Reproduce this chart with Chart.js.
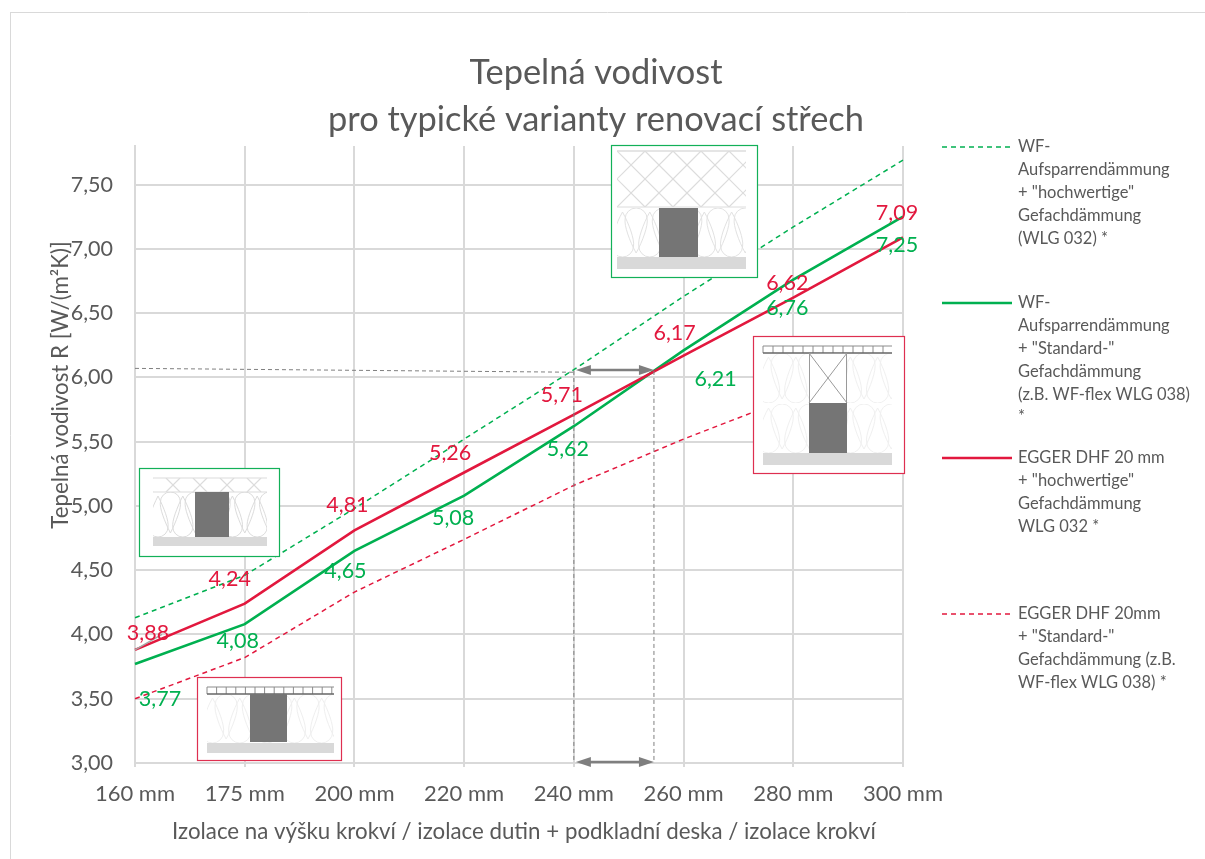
<!DOCTYPE html>
<html lang="cs">
<head>
  <meta charset="UTF-8">
  <title>Tepelná vodivost</title>
  <script src="https://cdn.jsdelivr.net/npm/chart.js"></script>
  <style>
    html, body { margin: 0; padding: 0; background: #fff; overflow: hidden; }
    canvas { display: block; }
  </style>
</head>
<body>
  <canvas id="chart" width="1205" height="859"></canvas>

  <script>
    const categories = ['160 mm', '175 mm', '200 mm', '220 mm', '240 mm', '260 mm', '280 mm', '300 mm'];

    // hodnoty
    const wfPremium = [4.13, 4.46, 4.98, 5.52, 6.06, 6.63, 7.17, 7.69];
    const wfStandard = [3.77, 4.08, 4.65, 5.08, 5.62, 6.21, 6.76, 7.25];
    const eggerPremium = [3.88, 4.24, 4.81, 5.26, 5.71, 6.17, 6.62, 7.09];
    const eggerStandard = [3.50, 3.82, 4.33, 4.74, 5.16, 5.52, 5.85, 6.25];

    const legendWfPremium = ['WF-', 'Aufsparrendämmung', '+ "hochwertige"', 'Gefachdämmung', '(WLG 032) *'];
    const legendWfStandard = ['WF-', 'Aufsparrendämmung', '+ "Standard-"', 'Gefachdämmung', '(z.B. WF-flex WLG 038)', '*'];
    const legendEggerPremium = ['EGGER DHF 20 mm', '+ "hochwertige"', 'Gefachdämmung', 'WLG 032 *'];
    const legendEggerStandard = ['EGGER DHF 20mm', '+ "Standard-"', 'Gefachdämmung (z.B.', 'WF-flex WLG 038) *'];

    const titleLines = ['Tepelná vodivost', 'pro typické varianty renovací střech'];
    const yTitle = 'Tepelná vodivost R [W/(m²K)]';
    const xTitle = 'Izolace na výšku krokví / izolace dutin + podkladní deska / izolace krokví';

    const GREEN = '#00B050';
    const RED = '#E2183E';
    const TEXT = '#595959';
    const FONT = 'Lato, "Open Sans", sans-serif';

    // posuny popisků od bodu
    const redOffsets = [[13, -17], [-15, -25], [-7, -25], [-14, -19], [-12, -20], [-9, -22], [-6, -15], [-6, -24]];
    const greenOffsets = [[25, 35], [-7, 17], [-9, 20], [-11, 22], [-6, 23], [32, 29], [-6, 28], [-6, 28]];

    function comma(v) {
      return v.toFixed(2).replace('.', ',');
    }

    function line(ctx, x1, y1, x2, y2) {
      ctx.beginPath();
      ctx.moveTo(x1, y1);
      ctx.lineTo(x2, y2);
      ctx.stroke();
    }

    function arrowHead(ctx, x, y, dir) {
      ctx.beginPath();
      ctx.moveTo(x, y);
      ctx.lineTo(x + dir * 15, y - 5);
      ctx.lineTo(x + dir * 15, y + 5);
      ctx.closePath();
      ctx.fill();
    }

    function doubleArrow(ctx, x1, x2, y) {
      ctx.strokeStyle = '#7f7f7f';
      ctx.fillStyle = '#7f7f7f';
      ctx.lineWidth = 2.5;
      line(ctx, x1 + 8, y, x2 - 8, y);
      arrowHead(ctx, x1, y, 1);
      arrowHead(ctx, x2, y, -1);
    }

    // vlnitá izolace mezi dvěma výškami
    function insulation(ctx, x0, x1, y0, y1, cellW, color) {
      ctx.save();
      ctx.beginPath();
      ctx.rect(x0, y0, x1 - x0, y1 - y0);
      ctx.clip();
      ctx.strokeStyle = color;
      ctx.lineWidth = 1;
      const r = cellW / 2;
      let down = true;
      for (let cx = x0 + r / 2; cx < x1 + r; cx += cellW * 0.62) {
        ctx.beginPath();
        if (down) {
          ctx.moveTo(cx, y0 + 4);
          ctx.bezierCurveTo(cx - r * 0.6, y0 + 16, cx - r * 1.1, y1 - r * 1.6, cx - r, y1 - r);
          ctx.arc(cx, y1 - r, r, Math.PI, 0, true);
          ctx.bezierCurveTo(cx + r * 1.1, y1 - r * 1.6, cx + r * 0.6, y0 + 16, cx, y0 + 4);
        } else {
          ctx.moveTo(cx, y1 - 4);
          ctx.bezierCurveTo(cx - r * 0.6, y1 - 16, cx - r * 1.1, y0 + r * 1.6, cx - r, y0 + r);
          ctx.arc(cx, y0 + r, r, Math.PI, 0, false);
          ctx.bezierCurveTo(cx + r * 1.1, y0 + r * 1.6, cx + r * 0.6, y1 - 16, cx, y1 - 4);
        }
        ctx.stroke();
        down = !down;
      }
      ctx.restore();
    }

    function crossHatch(ctx, x0, x1, y0, y1, step) {
      ctx.save();
      ctx.beginPath();
      ctx.rect(x0, y0, x1 - x0, y1 - y0);
      ctx.clip();
      ctx.strokeStyle = '#dcdcdc';
      ctx.lineWidth = 1.2;
      const h = y1 - y0;
      for (let x = x0 - h; x < x1 + h; x += step) {
        line(ctx, x, y0, x + h, y1);
        line(ctx, x + h, y0, x, y1);
      }
      ctx.restore();
    }

    function battens(ctx, x0, x1, y0, y1, step) {
      ctx.strokeStyle = '#8c8c8c';
      ctx.lineWidth = 1;
      line(ctx, x0, y0, x1, y0);
      for (let x = x0; x <= x1; x += step) line(ctx, x, y0, x, y1);
      ctx.strokeStyle = '#666';
      ctx.lineWidth = 1.5;
      line(ctx, x0, y1, x1, y1);
    }

    function frame(ctx, x, y, w, h, color) {
      ctx.fillStyle = '#fff';
      ctx.fillRect(x, y, w, h);
      ctx.strokeStyle = color;
      ctx.lineWidth = 1.2;
      ctx.strokeRect(x + 0.5, y + 0.5, w, h);
    }

    function solid(ctx, x, y, w, h, color) {
      ctx.fillStyle = color;
      ctx.fillRect(x, y, w, h);
    }

    function drawInsets(ctx) {
      // levá zelená
      frame(ctx, 139, 468, 140, 88, '#12B058');
      ctx.strokeStyle = '#dcdcdc';
      ctx.lineWidth = 1.2;
      line(ctx, 153, 478, 267, 478);
      line(ctx, 153, 492, 267, 492);
      crossHatch(ctx, 153, 267, 478, 492, 27);
      insulation(ctx, 153, 267, 492, 537, 20, '#dcdcdc');
      solid(ctx, 195, 492, 34, 45, '#757575');
      solid(ctx, 153, 537, 114, 9, '#d9d9d9');

      // spodní červená
      frame(ctx, 197, 677, 144, 83, '#DE2F50');
      insulation(ctx, 207, 334, 694, 743, 22, '#efefef');
      battens(ctx, 207, 334, 687, 694, 9.6);
      solid(ctx, 250, 694, 37, 48, '#757575');
      solid(ctx, 207, 743, 127, 10, '#d9d9d9');

      // horní zelená
      frame(ctx, 611, 145, 146, 132, '#12B058');
      crossHatch(ctx, 617, 746, 151, 207, 28);
      ctx.strokeStyle = '#dcdcdc';
      ctx.lineWidth = 1.5;
      line(ctx, 617, 151, 746, 151);
      ctx.lineWidth = 1;
      line(ctx, 617, 207, 746, 207);
      insulation(ctx, 617, 746, 208, 257, 22, '#e2e2e2');
      solid(ctx, 659, 208, 39, 49, '#757575');
      solid(ctx, 617, 257, 129, 12, '#d9d9d9');

      // pravá červená
      frame(ctx, 753, 336, 151, 137, '#DE2F50');
      insulation(ctx, 763, 892, 353, 403, 22, '#f0f0f0');
      insulation(ctx, 763, 892, 404, 453, 22, '#f0f0f0');
      battens(ctx, 763, 892, 346, 353, 10);
      solid(ctx, 809, 353, 38, 50, '#fff');
      ctx.strokeStyle = '#9a9a9a';
      ctx.lineWidth = 1;
      ctx.strokeRect(809.5, 353.5, 37, 50);
      line(ctx, 809, 353, 847, 403);
      line(ctx, 847, 353, 809, 403);
      solid(ctx, 809, 403, 38, 50, '#757575');
      solid(ctx, 763, 453, 129, 12, '#d9d9d9');
    }

    function drawLegendBlock(ctx, lines, yStart, color, dashed) {
      ctx.save();
      ctx.strokeStyle = color;
      ctx.lineWidth = dashed ? 1.5 : 2.5;
      ctx.setLineDash(dashed ? [5, 4] : []);
      line(ctx, 942, yStart, 1012, yStart);
      ctx.restore();
      ctx.fillStyle = TEXT;
      ctx.font = '16.5px ' + FONT;
      ctx.textAlign = 'left';
      ctx.textBaseline = 'middle';
      lines.forEach((t, i) => ctx.fillText(t, 1018, yStart + i * 22.8));
    }

    const overlayPlugin = {
      id: 'overlay',
      beforeDraw(chart) {
        const ctx = chart.ctx;
        ctx.save();
        ctx.strokeStyle = '#d9d9d9';
        ctx.lineWidth = 1;
        line(ctx, 10.5, 12, 10.5, 859);
        line(ctx, 10, 12.5, 1205, 12.5);
        ctx.restore();
      },
      afterDatasetsDraw(chart) {
        const ctx = chart.ctx;
        const xs = chart.scales.x;
        const ys = chart.scales.y;
        ctx.save();

        // vodicí čáry a šipky
        const x240 = xs.getPixelForValue(4);
        const xCross = xs.getPixelForValue(4.73);
        const yCross = ys.getPixelForValue(6.05);
        ctx.save();
        ctx.strokeStyle = '#7f7f7f';
        ctx.lineWidth = 1;
        ctx.setLineDash([4, 3]);
        line(ctx, xs.left, ys.getPixelForValue(6.07), x240, ys.getPixelForValue(6.04));
        line(ctx, x240, yCross, x240, ys.bottom);
        line(ctx, xCross, yCross, xCross, ys.bottom);
        ctx.restore();
        doubleArrow(ctx, x240 + 2, xCross, yCross - 1);
        doubleArrow(ctx, x240 + 2, xCross, ys.bottom - 1);

        ctx.strokeStyle = '#a6a6a6';
        ctx.lineWidth = 1.5;
        line(ctx, xs.left, ys.getPixelForValue(3.88), xs.left + 27, ys.getPixelForValue(4));

        drawInsets(ctx);

        // popisky hodnot
        ctx.font = '21.5px ' + FONT;
        ctx.textAlign = 'center';
        ctx.textBaseline = 'middle';
        wfStandard.forEach((v, i) => {
          ctx.fillStyle = GREEN;
          ctx.fillText(comma(v), xs.getPixelForValue(i) + greenOffsets[i][0], ys.getPixelForValue(v) + greenOffsets[i][1]);
        });
        eggerPremium.forEach((v, i) => {
          ctx.fillStyle = RED;
          ctx.fillText(comma(v), xs.getPixelForValue(i) + redOffsets[i][0], ys.getPixelForValue(v) + redOffsets[i][1]);
        });

        // nadpis a popisy os
        ctx.fillStyle = TEXT;
        ctx.font = '34.4px ' + FONT;
        ctx.fillText(titleLines[0], 596, 73);
        ctx.fillText(titleLines[1], 596, 120);
        ctx.font = '22.3px ' + FONT;
        ctx.fillText(xTitle, 524, 832);
        ctx.save();
        ctx.translate(61, 385);
        ctx.rotate(-Math.PI / 2);
        ctx.fillText(yTitle, 0, 0);
        ctx.restore();

        drawLegendBlock(ctx, legendWfPremium, 147, GREEN, true);
        drawLegendBlock(ctx, legendWfStandard, 303, GREEN, false);
        drawLegendBlock(ctx, legendEggerPremium, 458, RED, false);
        drawLegendBlock(ctx, legendEggerStandard, 614, RED, true);
        ctx.restore();
      }
    };

    new Chart(document.getElementById('chart'), {
      type: 'line',
      data: {
        labels: categories,
        datasets: [
          { label: 'WF + hochwertige', data: wfPremium, borderColor: GREEN, borderWidth: 1.5, borderDash: [5, 4], order: 3 },
          { label: 'WF + Standard', data: wfStandard, borderColor: GREEN, borderWidth: 2.6, order: 1 },
          { label: 'EGGER + hochwertige', data: eggerPremium, borderColor: RED, borderWidth: 2.6, order: 0 },
          { label: 'EGGER + Standard', data: eggerStandard, borderColor: RED, borderWidth: 1.5, borderDash: [5, 4], order: 2 }
        ]
      },
      options: {
        responsive: false,
        animation: false,
        events: [],
        elements: { point: { radius: 0 }, line: { tension: 0 } },
        layout: { padding: { left: 0, right: 302, top: 146, bottom: 0 } },
        plugins: { legend: { display: false }, title: { display: false }, tooltip: { enabled: false } },
        scales: {
          x: {
            offset: false,
            afterFit(scale) { scale.height = 96; },
            grid: { color: '#d9d9d9', lineWidth: 2, tickLength: 4 },
            border: { color: '#d9d9d9', width: 2 },
            ticks: { color: TEXT, font: { family: FONT, size: 22 }, padding: 14, maxRotation: 0, autoSkip: false }
          },
          y: {
            min: 3,
            max: 7.8,
            afterFit(scale) { scale.width = 135; },
            grid: { color: '#d9d9d9', lineWidth: 2, drawTicks: false },
            border: { color: '#d9d9d9', width: 2 },
            ticks: {
              stepSize: 0.5,
              includeBounds: false,
              color: TEXT,
              font: { family: FONT, size: 21.5 },
              padding: 22,
              callback: v => comma(v)
            }
          }
        }
      },
      plugins: [overlayPlugin]
    });
  </script>
</body>
</html>
